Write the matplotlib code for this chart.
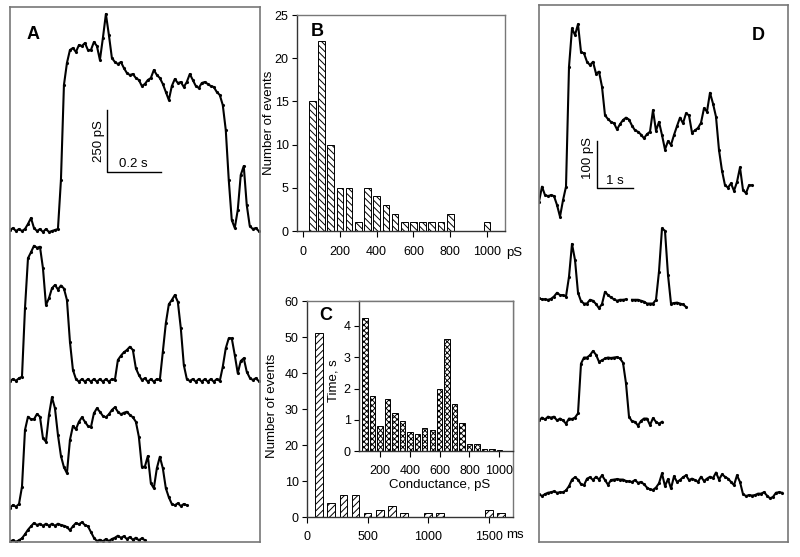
import numpy as np
import matplotlib
matplotlib.use('Agg')
import matplotlib.pyplot as plt

plt.rcParams['font.family'] = ['Liberation Sans', 'DejaVu Sans']
plt.rcParams['hatch.linewidth'] = 0.7

# ---------------- data ----------------
# Panel B: conductance histogram (pS -> number of events)
b_cond = [50, 100, 150, 200, 250, 300, 350, 400, 450, 500, 550, 600, 650, 700, 750, 800, 1000]
b_count = [15, 22, 10, 5, 5, 1, 5, 4, 3, 2, 1, 1, 1, 1, 1, 2, 1]
b_xticks = [0, 200, 400, 600, 800, 1000]
b_yticks = [0, 5, 10, 15, 20, 25]

# Panel C: duration histogram (ms -> number of events)
c_dur = [100, 200, 300, 400, 500, 600, 700, 800, 1000, 1100, 1500, 1600]
c_count = [51, 4, 6, 6, 1, 2, 3, 1, 1, 1, 2, 1]
c_xticks = [0, 500, 1000, 1500]
c_yticks = [0, 10, 20, 30, 40, 50, 60]

# Panel C inset: total time at each conductance level (pS -> s)
i_cond = [100, 150, 200, 250, 300, 350, 400, 450, 500, 550, 600, 650, 700, 750, 800, 850, 900, 950, 1000]
i_time = [4.27, 1.76, 0.80, 1.66, 1.23, 0.96, 0.62, 0.54, 0.75, 0.67, 1.98, 3.58, 1.50, 0.89, 0.21, 0.21, 0.05, 0.05, 0.03]
i_xticks = [200, 400, 600, 800, 1000]
i_yticks = [0, 1, 2, 3, 4]

# Panel A traces (pS relative to baseline, sampled every dt_A seconds)
dt_A = 0.0111
a_trace1 = [-4, 4, -8, 0, -8, 0, 20, 44, 4, -8, 0, -12, 0, -12, -8, -4, 0, 196, 576, 664,
            716, 724, 708, 736, 732, 744, 716, 716, 748, 732, 676, 764, 860, 776, 684, 668, 660, 668, 644, 624,
            616, 620, 604, 596, 572, 580, 596, 604, 636, 616, 604, 580, 548, 516, 572, 600, 584, 588, 568, 588,
            620, 596, 572, 564, 584, 588, 580, 572, 568, 548, 536, 496, 396, 196, 36, 4, 76, 216, 252, 96,
            12, 0, 4, -8]
a_trace2 = [-4, 4, -3, 7, 13, 287, 487, 511, 537, 529, 533, 447, 300, 327, 367, 380, 362, 378, 366, 320,
            153, 40, 4, -7, 4, -7, 4, -7, 4, -7, 4, -7, 4, -7, 4, 0, 80, 97, 111, 120,
            133, 120, 47, 20, 0, 7, -7, 4, -7, 4, 0, 113, 227, 303, 320, 340, 313, 207, 60, 4,
            -4, 4, -7, 4, -7, 4, -7, 4, -7, 4, -4, 53, 127, 167, 167, 100, 27, 76, 87, 33,
            9, 0, 7, -4]
a_trace3 = [-7, 4, -3, 8, 77, 304, 357, 347, 347, 368, 357, 271, 257, 364, 435, 391, 284, 200, 155, 131,
            264, 320, 307, 337, 355, 337, 320, 315, 371, 391, 377, 360, 355, 367, 384, 395, 377, 367, 373, 377,
            364, 355, 337, 277, 157, 157, 200, 91, 71, 151, 197, 151, 71, 35, 8, 3, 11, 0, 8, 3]
a_trace4 = [-1, 3, -3, 3, 11, 27, 45, 59, 72, 64, 69, 61, 69, 61, 69, 61, 69, 64, 61, 56,
            43, 59, 72, 67, 75, 64, 59, 36, 13, 0, 5, -1, 8, 0, 8, 13, 21, 13, 19, 8,
            16, 5, 13, 3, 11, 3]

# Panel D traces (pS relative to baseline, sampled every dt_D seconds)
dt_D = 1 / 12
d_trace1 = [-14, 18, 0, -2, 0, -2, -21, -46, -11, 18, 273, 355, 341, 364, 305, 302, 284, 277, 284, 259,
            263, 231, 170, 162, 156, 153, 140, 151, 160, 165, 161, 148, 138, 135, 129, 121, 130, 135, 181, 137,
            156, 128, 97, 115, 107, 128, 147, 165, 153, 174, 170, 133, 138, 143, 154, 185, 178, 218, 195, 167,
            96, 52, 21, 16, 25, 9, 28, 59, 11, 4, 21, 21]
d_trace2 = [2, 0, 0, -1, 1, 6, 14, 9, 9, 6, 48, 118, 84, 14, -4, -9, -9, -1, -3, -10,
            -19, -10, 16, 9, 4, 0, -3, -1, -1, 0, np.nan, -1, -1, -1, -3, -5, -9, -9, -9, -1,
            59, 151, 146, 52, -9, -8, -7, -9, -11, -16]
d_trace3 = [-4, 2, -2, 4, 2, 4, -4, 0, -4, -11, 0, -1, 2, 11, 117, 130, 130, 135, 144, 136,
            121, 124, 128, 130, 129, 130, 131, 128, 119, 75, 4, -6, -7, -15, -5, 0, 0, -14, 1, -7,
            -11, -7]
d_trace4 = [0, -4, 0, 3, 4, 6, 3, 4, 4, 8, 17, 31, 36, 31, 21, 19, 33, 36, 30, 37,
            31, 40, 30, 20, 30, 31, 32, 31, 31, 28, 27, 26, 30, 24, 26, 21, 14, 10, 9, 14,
            23, 44, 17, 32, 12, 38, 26, 30, 36, 40, 30, 33, 30, 26, 37, 28, 33, 37, 34, 46,
            31, 42, 37, 33, 26, 19, 40, 26, 0, -4, -2, -3, -2, 1, 1, 4, -3, -9, -6, 3,
            4, 3]

# ---------------- layout ----------------
W, H = 800, 557
fig = plt.figure(figsize=(W / 100, H / 100), dpi=100)


def rect(x0, y0, x1, y1):
    return [x0 / W, 1 - y1 / H, (x1 - x0) / W, (y1 - y0) / H]


def ftext(x, y, s, **kw):
    return fig.text(x / W, 1 - y / H, s, **kw)


TFS = 9      # tick labels
LFS = 9.5    # axis labels
box_col = '#777777'


def trace_axes(r):
    ax = fig.add_axes(r)
    ax.set_xticks([]); ax.set_yticks([])
    for s in ax.spines.values():
        s.set_color(box_col); s.set_linewidth(1.2)
    return ax


def plot_trace(ax, vals, dt, offset):
    v = np.asarray(vals, dtype=float)
    t = np.arange(len(v)) * dt
    ax.plot(t, v + offset, color='black', lw=1.5, marker='.', ms=2.5,
            solid_joinstyle='round')


# Panel A
axA = trace_axes(rect(10, 7, 260, 542))
axA.set_xlim(0, 0.926); axA.set_ylim(0, 2140)
for tr, off in zip([a_trace1, a_trace2, a_trace3, a_trace4], [1252, 648, 144, 4]):
    plot_trace(axA, tr, dt_A, off)
axA.plot([0.359, 0.359, 0.559], [1730, 1480, 1480], color='black', lw=1)
axA.text(0.328, 1605, '250 pS', rotation=90, ha='center', va='center', fontsize=9.5)
axA.text(0.455, 1512, '0.2 s', ha='center', va='center', fontsize=9.5)
axA.text(0.085, 2030, 'A', ha='center', va='center', fontsize=13, fontweight='bold')

# Panel D
axD = trace_axes(rect(539, 5, 788, 542))
axD.set_xlim(0, 6.917); axD.set_ylim(0, 1144)
for tr, off in zip([d_trace1, d_trace2, d_trace3, d_trace4], [739, 517, 263, 102]):
    plot_trace(axD, tr, dt_D, off)
axD.plot([1.6, 1.6, 2.6], [855, 755, 755], color='black', lw=1)
axD.text(1.37, 818, '100 pS', rotation=90, ha='center', va='center', fontsize=9.5)
axD.text(2.12, 768, '1 s', ha='center', va='center', fontsize=9.5)
axD.text(6.08, 1078, 'D', ha='center', va='center', fontsize=13, fontweight='bold')


def hist_style(ax, xpad):
    ax.spines['left'].set_color('#333333')
    ax.spines['bottom'].set_color('#333333')
    ax.spines['top'].set_color(box_col)
    ax.spines['right'].set_color(box_col)
    for s in ax.spines.values():
        s.set_linewidth(1.0)
    ax.tick_params(axis='x', direction='out', length=4, width=0.8, labelsize=TFS, pad=xpad)
    ax.tick_params(axis='y', direction='out', length=3.5, width=0.8, labelsize=TFS, pad=2.5)


# Panel B
axB = fig.add_axes(rect(297, 15, 505, 231))
axB.bar(b_cond, b_count, width=36, facecolor='white', edgecolor='black',
        hatch='\\\\\\\\\\', lw=0.7)
axB.set_xlim(-33, 1098); axB.set_ylim(0, 25)
axB.set_xticks(b_xticks); axB.set_yticks(b_yticks)
hist_style(axB, 7)
ftext(269, 123, 'Number of events', rotation=90, ha='center', va='center', fontsize=LFS)
ftext(506, 253, 'pS', ha='left', va='center', fontsize=TFS + 0.5)
ftext(317, 31, 'B', ha='center', va='center', fontsize=13, fontweight='bold')

# Panel C
axC = fig.add_axes(rect(307, 301, 513, 517))
axC.bar(c_dur, c_count, width=63, facecolor='white', edgecolor='black',
        hatch='/////', lw=0.7)
axC.set_xlim(0, 1700); axC.set_ylim(0, 60)
axC.set_xticks(c_xticks); axC.set_yticks(c_yticks)
hist_style(axC, 6)
ftext(272, 406, 'Number of events', rotation=90, ha='center', va='center', fontsize=LFS)
ftext(506, 535, 'ms', ha='left', va='center', fontsize=TFS + 0.5)
ftext(326, 316, 'C', ha='center', va='center', fontsize=13, fontweight='bold')

# Inset
axI = fig.add_axes(rect(359, 301, 513, 451))
axI.bar(i_cond, i_time, width=36, facecolor='white', edgecolor='black',
        hatch='xxxxxx', lw=0.7)
axI.set_xlim(59, 1092); axI.set_ylim(0, 4.8)
axI.set_xticks(i_xticks); axI.set_yticks(i_yticks)
hist_style(axI, 6)
ftext(334, 381, 'Time, s', rotation=90, ha='center', va='center', fontsize=LFS)
ftext(440, 485, 'Conductance, pS', ha='center', va='center', fontsize=LFS)

fig.savefig('out.png', dpi=100)
